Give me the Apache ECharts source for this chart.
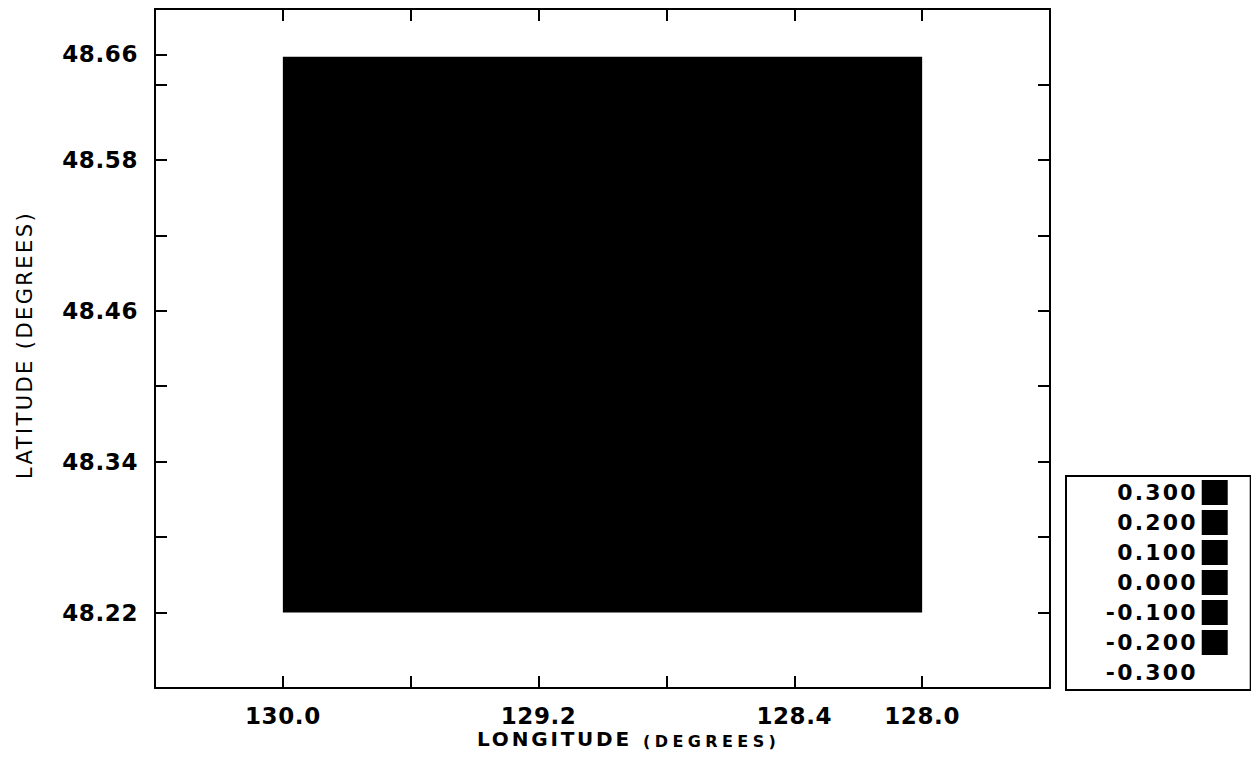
<!DOCTYPE html>
<html>
<head>
<meta charset="utf-8">
<script src="https://cdn.jsdelivr.net/npm/echarts@6/dist/echarts.min.js"></script>
<style>
  html, body { margin: 0; padding: 0; background: #fff; }
  #chart { width: 1251px; height: 766px; }
  #chart text[style*="tkx"] { letter-spacing: 0.6px; }
  #chart text[style*="lgx"] { letter-spacing: 2.2px; }
  #chart text[style*="lonx"] { letter-spacing: 2.8px; }
  #chart text[style*="degx"] { letter-spacing: 4.4px; }
  #chart text[style*="latx"] { letter-spacing: 2.4px; }
</style>
</head>
<body>
<div id="chart"></div>
<script>
// ---- data ----
const lonTicks = [130.0, 129.6, 129.2, 128.8, 128.4, 128.0];
const lonLabels = [130.0, 129.2, 128.4, 128.0];
const latTicksLeft = [48.22, 48.28, 48.34, 48.40, 48.46, 48.52, 48.58, 48.64, 48.664];
const latTicksRight = [48.22, 48.28, 48.34, 48.40, 48.46, 48.52, 48.58, 48.64];
const latLabels = [48.22, 48.34, 48.46, 48.58, 48.664];
const cellLon = [128.0, 130.0];
const cellLat = [48.22, 48.662];
const cellValue = 0.0;
const legendValues = [0.3, 0.2, 0.1, 0.0, -0.1, -0.2, -0.3];
const legendLabels = ['0.300', '0.200', '0.100', '0.000', '-0.100', '-0.200', '-0.300'];
const legendColors = ['#000', '#000', '#000', '#000', '#000', '#000', 'rgba(0,0,0,0)'];
const xTitle = 'LONGITUDE';
const xTitleUnit = '(DEGREES)';
const yTitle = 'LATITUDE (DEGREES)';

const chart = echarts.init(document.getElementById('chart'), null, { renderer: 'svg' });

const tickFont = { color: '#000', fontSize: 23, fontWeight: 'bold', fontFamily: '"DejaVu Sans", tkx' };
const lineStyle = { color: '#000', width: 2 };

const option = {
  animation: false,
  backgroundColor: '#fff',
  grid: { left: 155, right: 201, top: 9, bottom: 78, containLabel: false },
  xAxis: [
    {
      type: 'value', position: 'bottom', inverse: true, min: 127.6, max: 130.4,
      axisLine: { show: true, onZero: false, lineStyle: lineStyle },
      axisTick: { show: true, inside: true, length: 12, lineStyle: lineStyle, customValues: lonTicks },
      axisLabel: { show: true, margin: 16, customValues: lonLabels, formatter: v => Number(v).toFixed(1), ...tickFont },
      splitLine: { show: false }
    },
    {
      type: 'value', position: 'top', inverse: true, min: 127.6, max: 130.4,
      axisLine: { show: true, onZero: false, lineStyle: lineStyle },
      axisTick: { show: true, inside: true, length: 12, lineStyle: lineStyle, customValues: lonTicks },
      axisLabel: { show: false },
      splitLine: { show: false }
    }
  ],
  yAxis: [
    {
      type: 'value', position: 'left', min: 48.16, max: 48.70,
      axisLine: { show: true, onZero: false, lineStyle: lineStyle },
      axisTick: { show: true, inside: true, length: 12, lineStyle: lineStyle, customValues: latTicksLeft },
      axisLabel: { show: true, margin: 17, customValues: latLabels, formatter: v => Number(v).toFixed(2), ...tickFont },
      splitLine: { show: false }
    },
    {
      type: 'value', position: 'right', min: 48.16, max: 48.70,
      axisLine: { show: true, onZero: false, lineStyle: lineStyle },
      axisTick: { show: true, inside: true, length: 12, lineStyle: lineStyle, customValues: latTicksRight },
      axisLabel: { show: false },
      splitLine: { show: false }
    }
  ],
  visualMap: {
    type: 'piecewise',
    seriesIndex: 0,
    dimension: 4,
    orient: 'vertical',
    inverse: false,
    align: 'right',
    itemSymbol: 'rect',
    left: 1065,
    top: 475,
    itemWidth: 26,
    itemHeight: 25,
    itemGap: 5,
    textGap: 4,
    padding: [4, 23, 5, 53],
    borderColor: '#000',
    borderWidth: 2,
    backgroundColor: '#fff',
    selectedMode: false,
    pieces: legendValues.map((v, i) => ({ value: v, label: legendLabels[i], color: legendColors[i] })),
    textStyle: { color: '#000', fontSize: 22, fontWeight: 'bold', fontFamily: '"DejaVu Sans", lgx' }
  },
  series: [
    {
      type: 'custom',
      xAxisIndex: 0,
      yAxisIndex: 0,
      encode: { x: [0, 2], y: [1, 3] },
      data: [[cellLon[0], cellLat[0], cellLon[1], cellLat[1], cellValue]],
      renderItem: function (params, api) {
        const p1 = api.coord([api.value(0), api.value(1)]);
        const p2 = api.coord([api.value(2), api.value(3)]);
        return {
          type: 'rect',
          shape: {
            x: Math.min(p1[0], p2[0]),
            y: Math.min(p1[1], p2[1]),
            width: Math.abs(p2[0] - p1[0]),
            height: Math.abs(p2[1] - p1[1])
          },
          style: { fill: api.visual('color') }
        };
      }
    }
  ],
  graphic: [
    {
      type: 'text', x: 477, y: 739,
      style: { text: xTitle, fill: '#000', font: 'bold 20px "DejaVu Sans", lonx', textAlign: 'left', textVerticalAlign: 'middle' }
    },
    {
      type: 'text', x: 643, y: 741,
      style: { text: xTitleUnit, fill: '#000', font: 'bold 16px "DejaVu Sans", degx', textAlign: 'left', textVerticalAlign: 'middle' }
    },
    {
      type: 'text', x: 25, y: 345, rotation: Math.PI / 2,
      style: { text: yTitle, fill: '#000', font: '21px "DejaVu Sans", latx', textAlign: 'center', textVerticalAlign: 'middle' }
    }
  ]
};

chart.setOption(option);
</script>
</body>
</html>
